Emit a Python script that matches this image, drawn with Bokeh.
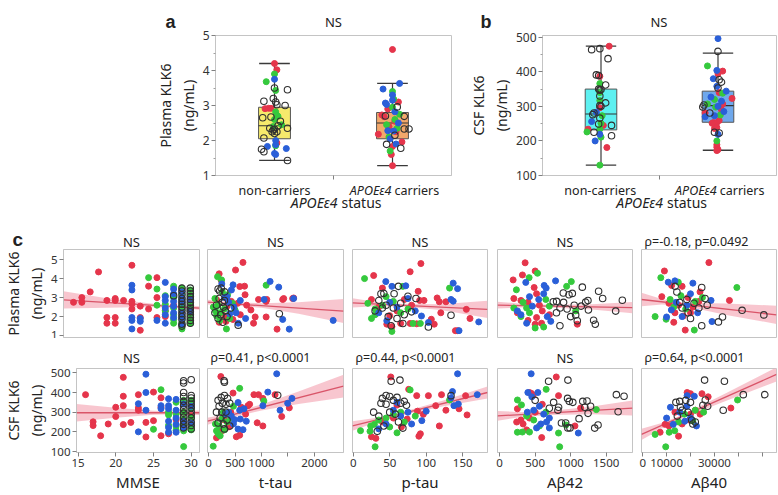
from bokeh.plotting import figure
from bokeh.models import Range1d, FixedTicker, Label
from bokeh.layouts import row, column
from bokeh.embed import file_html
from bokeh.resources import INLINE

# ---------------- data ----------------
group_pos = [0.5, 1.5]
group_names = ["non-carriers", "carriers"]
gene = "APOE\u03b54"

# box stats: [lower whisker, Q1, median, Q3, upper whisker]
a_nc_stats = [1.43, 2.05, 2.42, 2.95, 4.20]
a_c_stats = [1.28, 2.05, 2.50, 2.80, 3.63]
b_nc_stats = [130, 232, 278, 350, 474]
b_c_stats = [173, 254, 302, 344, 454]

# panel a points (x = jittered group position, y = plasma KLK6)
a_red = [(0.5, 4.2), (0.52, 4.02), (0.42, 2.91), (0.45, 2.92), (0.47, 2.92), (0.52, 1.93),
         (1.5, 4.6), (1.41, 2.73), (1.43, 2.68), (1.38, 2.18), (1.47, 2.4), (1.58, 1.96), (1.5, 1.83),
         (1.5, 1.28), (1.52, 2.55), (1.46, 2.9), (1.55, 3.1), (1.49, 1.6), (1.53, 2.25)]
a_green = [(0.5, 3.9), (0.43, 3.68), (0.51, 3.43), (0.51, 2.82), (0.52, 2.72), (0.53, 2.69), (0.5, 2.6),
           (0.56, 2.45), (0.49, 2.4), (0.51, 1.85),
           (1.51, 3.18), (1.47, 2.1), (1.52, 2.6), (1.5, 2.95), (1.54, 2.35), (1.48, 1.7), (1.5, 3.4),
           (1.56, 2.75), (1.45, 2.45)]
a_blue = [(0.5, 3.75), (0.51, 2.0), (0.51, 1.88), (0.44, 1.83), (0.6, 1.77), (0.5, 1.63), (0.51, 1.6),
          (1.56, 3.63), (1.42, 3.47), (1.44, 3.07), (1.45, 3.03), (1.5, 3.15), (1.46, 2.28), (1.51, 2.27),
          (1.52, 2.82), (1.48, 2.05), (1.53, 1.9), (1.55, 2.5), (1.5, 3.3)]
a_open = [(0.5, 3.5), (0.61, 3.45), (0.41, 3.12), (0.49, 3.2), (0.51, 3.1), (0.52, 3.02), (0.59, 3.0),
          (0.4, 2.65), (0.47, 2.67), (0.55, 2.55), (0.53, 2.42), (0.61, 2.35), (0.49, 2.3), (0.48, 2.25),
          (0.52, 2.25), (0.5, 2.2), (0.41, 2.07), (0.39, 1.75), (0.41, 1.68), (0.61, 1.43), (0.5, 2.32),
          (0.46, 2.35),
          (1.44, 2.7), (1.54, 2.96), (1.6, 2.69), (1.6, 2.33), (1.64, 2.33), (1.45, 1.89), (1.57, 1.78),
          (1.52, 2.15)]

# panel b points (x = jittered group position, y = CSF KLK6)
b_red = [(0.57, 474), (0.49, 387), (0.49, 296), (0.52, 245), (0.39, 234), (0.55, 181),
         (1.54, 402), (1.5, 394), (1.51, 340), (1.62, 323), (1.54, 307), (1.39, 281), (1.46, 253),
         (1.49, 253), (1.45, 251), (1.51, 259), (1.47, 236), (1.49, 239), (1.49, 189), (1.49, 182),
         (1.5, 175), (1.49, 172), (1.53, 290)]
b_green = [(0.49, 366), (0.49, 340), (0.49, 317), (0.51, 273), (0.5, 251), (0.38, 226), (0.49, 234),
           (0.5, 211), (0.49, 130),
           (1.41, 417), (1.54, 338), (1.41, 307), (1.48, 298), (1.52, 275), (1.49, 200), (1.47, 320)]
b_blue = [(0.46, 283), (0.42, 256), (0.49, 219), (0.45, 200),
          (1.5, 496), (1.49, 404), (1.49, 358), (1.57, 344), (1.44, 327), (1.53, 315), (1.5, 300),
          (1.39, 270), (1.47, 273), (1.5, 219), (1.55, 285), (1.46, 380)]
b_open = [(0.42, 464), (0.49, 467), (0.56, 438), (0.46, 391), (0.48, 389), (0.54, 362), (0.48, 350),
          (0.5, 349), (0.49, 347), (0.49, 330), (0.54, 310), (0.49, 302), (0.5, 300), (0.44, 281),
          (0.43, 276), (0.49, 266), (0.48, 249), (0.59, 245), (0.44, 225), (0.59, 215),
          (1.5, 459), (1.51, 377), (1.53, 370), (1.5, 353), (1.38, 304), (1.37, 298), (1.43, 281),
          (1.47, 225), (1.51, 223)]

# ---- panel c : plasma KLK6 (row 1) ----
mp_red = [(16, 2.75), (17, 3.0), (17, 2.75), (18, 3.3), (19, 4.35), (20, 2.85), (20, 1.95), (20, 1.65),
          (21, 2.95), (21, 2.85), (21, 1.95), (21, 1.65), (22, 2.85), (23, 4.7), (23, 2.8), (23, 2.67),
          (23, 2.4), (24, 2.55), (24, 1.95), (24, 1.28), (25, 3.6), (25, 2.4), (26, 4.05), (26, 3.0),
          (26, 1.95), (27, 2.3), (27, 2.0), (28, 2.6), (29, 2.2), (30, 2.5)]
mp_green = [(25, 4.05), (26, 3.45), (26, 2.6), (27, 3.1), (27, 2.65), (27, 2.3), (28, 3.6), (28, 3.0),
            (28, 2.45), (28, 2.1), (28, 1.65), (29, 3.5), (29, 3.2), (29, 2.9), (29, 2.6), (29, 2.3),
            (29, 2.0), (29, 1.7), (29, 1.35), (30, 3.4), (30, 3.05), (30, 2.75), (30, 2.45), (30, 2.15),
            (30, 1.85), (30, 1.65), (28, 1.85)]
mp_blue = [(23, 3.65), (23, 3.4), (23, 1.95), (23, 1.8), (23, 1.35), (24, 1.9), (24, 1.75), (26, 1.8),
           (27, 3.8), (27, 3.05), (27, 2.85), (27, 2.45), (27, 2.1), (28, 3.45), (28, 3.2), (28, 2.8),
           (28, 2.55), (28, 2.2), (28, 1.95), (29, 3.3), (29, 3.0), (29, 2.75), (29, 2.2), (29, 1.9),
           (29, 1.6), (30, 2.9), (30, 2.3), (27, 1.65)]
mp_open = [(29, 3.5), (29, 3.35), (29, 3.15), (29, 2.95), (29, 2.8), (29, 2.65), (29, 2.5), (29, 2.35),
           (29, 2.15), (29, 2.0), (29, 1.85), (29, 1.6), (29, 1.5), (30, 3.5), (30, 3.35), (30, 3.2),
           (30, 3.05), (30, 2.9), (30, 2.75), (30, 2.6), (30, 2.45), (30, 2.35), (30, 2.25), (30, 2.1),
           (30, 1.95), (30, 1.8), (30, 1.65), (28, 3.1)]

tp_red = [(650, 4.85), (510, 4.45), (200, 4.25), (590, 3.58), (680, 3.6), (690, 3.15), (240, 3.9),
          (150, 2.9), (350, 2.55), (250, 2.2), (310, 1.95), (460, 1.85), (200, 1.7), (330, 1.75),
          (600, 2.1), (720, 2.6), (800, 2.35), (944, 2.9), (1088, 2.8), (1100, 2.9), (1401, 2.9),
          (1420, 2.95), (1589, 2.95), (1608, 2.98), (881, 1.98), (1088, 1.98), (1294, 1.34), (550, 2.7),
          (430, 2.8), (850, 1.65)]
tp_green = [(170, 4.1), (245, 3.93), (1088, 3.65), (360, 3.15), (120, 2.95), (180, 2.6), (300, 2.4),
            (220, 2.2), (150, 2.05), (338, 1.35), (400, 1.9), (260, 3.3), (130, 2.3), (450, 2.7),
            (210, 1.8), (500, 2.35), (90, 2.5)]
tp_blue = [(1163, 3.85), (1326, 3.55), (1050, 2.9), (1607, 2.95), (1401, 1.85), (1525, 1.34), (2355, 1.8),
           (463, 3.67), (432, 3.4), (300, 3.0), (350, 3.05), (250, 3.72), (480, 2.5), (520, 2.2),
           (600, 2.85), (700, 1.9), (400, 2.15), (560, 1.65), (380, 2.75)]
tp_open = [(181, 3.45), (210, 3.35), (240, 3.5), (306, 3.3), (1338, 2.15), (560, 1.55), (200, 2.95),
           (260, 2.75), (150, 2.6), (280, 2.5), (320, 2.3), (230, 2.1), (180, 1.9), (350, 2.0), (270, 1.7),
           (420, 2.45), (120, 2.2), (300, 2.85)]

pp_red = [(92.7, 4.79), (28, 4.16), (78, 4.36), (40, 3.5), (89, 3.33), (97, 2.85), (91, 2.85), (115, 2.98),
          (118, 2.78), (127, 2.78), (155, 2.38), (160, 1.9), (120, 2.2), (107, 1.86), (46, 1.6), (53, 1.47),
          (65, 1.64), (78, 1.64), (87, 1.62), (111, 1.6), (140, 1.26), (143, 1.26), (25, 2.9), (35, 2.5),
          (60, 2.3), (70, 2.9), (50, 2.05), (80, 2.6)]
pp_green = [(15.5, 4.0), (68, 3.59), (132, 3.5), (25, 1.9), (30, 2.1), (53, 1.22), (82, 1.64), (92, 1.64),
            (40, 2.6), (55, 2.8), (65, 2.2), (30, 2.4), (45, 3.05), (75, 2.4), (20, 2.7)]
pp_blue = [(44.6, 3.84), (72, 3.62), (53, 3.59), (137, 3.76), (143, 3.47), (134, 2.9), (137, 2.81),
           (172, 1.72), (93.5, 2.03), (103, 1.69), (46, 1.78), (145, 1.26), (60, 2.5), (75, 2.95), (35, 2.2),
           (85, 2.3), (50, 2.75)]
pp_open = [(62, 3.59), (38, 3.2), (42, 3.22), (56, 3.2), (75, 3.07), (86, 2.95), (134, 2.07), (52, 1.52),
           (68, 1.64), (103, 1.45), (35, 2.85), (45, 2.6), (55, 2.45), (65, 2.7), (30, 2.3), (48, 2.0),
           (70, 2.1), (60, 1.9), (40, 2.45), (80, 2.25)]

ap_red = [(359, 4.83), (321, 4.19), (500, 4.4), (190, 3.93), (486, 3.53), (200, 2.95), (300, 2.85),
          (400, 2.75), (520, 3.2), (560, 2.6), (600, 2.3), (520, 1.95), (400, 1.8), (500, 1.6), (590, 1.65),
          (1093, 1.6), (250, 2.2), (700, 2.1)]
ap_green = [(415, 4.05), (533, 4.28), (943, 3.59), (1009, 3.84), (236, 3.41), (200, 2.45), (300, 2.0),
            (380, 2.45), (420, 2.2), (500, 1.4), (620, 1.45), (650, 2.9), (1070, 2.3), (700, 2.55),
            (330, 2.75)]
ap_blue = [(368, 3.8), (787, 3.88), (627, 3.64), (655, 3.5), (250, 2.3), (380, 1.65), (620, 3.2),
           (670, 2.0), (460, 2.55), (300, 2.1), (550, 2.9), (720, 1.75), (420, 3.05)]
ap_open = [(1164, 3.55), (896, 3.24), (976, 3.15), (1023, 3.22), (1393, 3.33), (1243, 2.85), (1211, 2.76),
           (1727, 2.86), (1633, 2.29), (1323, 1.81), (1347, 1.6), (849, 1.52), (1093, 1.78), (755, 2.78),
           (802, 2.8), (1070, 2.09), (850, 2.45), (1050, 2.6), (1150, 2.55), (900, 2.75), (950, 2.4),
           (1250, 2.35), (1450, 2.95), (1000, 2.0), (800, 2.2)]

fp_red = [(27700, 4.84), (9090, 4.4), (16500, 3.59), (12100, 3.64), (36300, 2.85), (17800, 1.29),
          (13500, 2.2), (17000, 2.03), (8000, 3.05), (11000, 2.7), (15000, 2.6), (19000, 3.0), (21000, 2.5),
          (24000, 3.3), (23500, 2.8), (13000, 1.7), (20000, 2.2)]
fp_green = [(7580, 4.05), (39400, 3.53), (14900, 3.81), (21600, 1.29), (5200, 2.0), (9800, 1.86),
            (11500, 2.9), (18000, 2.4), (13000, 2.5), (22000, 2.8), (16000, 3.1), (25000, 3.0)]
fp_blue = [(10700, 3.81), (13500, 3.88), (21000, 3.76), (28600, 2.85), (29000, 1.74), (10000, 1.98),
           (14000, 2.75), (18500, 2.6), (16500, 2.0), (20000, 3.2), (12000, 2.35), (23000, 2.2)]
fp_open = [(13600, 3.59), (14300, 3.29), (24700, 3.53), (26100, 2.95), (41600, 2.33), (50700, 2.09),
           (33400, 1.98), (31700, 1.72), (24700, 1.52), (19000, 2.2), (16500, 2.45), (21500, 2.7),
           (18500, 2.9), (23500, 2.45), (15500, 2.75), (20000, 1.9), (27000, 2.6)]

# ---- panel c : CSF KLK6 (row 2) ----
mc_red = [(16, 389), (17, 251), (17, 232), (18, 180), (19, 240), (20, 325), (20, 278), (21, 477), (21, 381),
          (21, 333), (21, 237), (22, 248), (23, 389), (23, 322), (23, 310), (24, 248), (24, 174), (25, 402),
          (25, 257), (26, 373), (26, 325), (26, 180), (27, 190), (28, 262), (29, 300), (30, 280)]
mc_green = [(26, 414), (25, 213), (27, 286), (27, 233), (27, 300), (28, 350), (28, 290), (28, 230),
            (28, 208), (29, 360), (29, 300), (29, 265), (29, 230), (29, 205), (29, 125), (30, 360),
            (30, 320), (30, 270), (30, 235), (30, 210)]
mc_blue = [(24, 493), (24, 400), (24, 310), (23, 343), (23, 200), (26, 333), (26, 318), (27, 368),
           (27, 333), (27, 318), (27, 254), (27, 222), (27, 198), (28, 365), (28, 310), (28, 270),
           (28, 238), (28, 198), (29, 341), (29, 254), (29, 220), (30, 330), (30, 245)]
mc_open = [(29, 460), (29, 448), (29, 400), (29, 380), (29, 355), (29, 335), (29, 315), (29, 295),
           (29, 275), (29, 255), (29, 238), (29, 220), (30, 465), (30, 385), (30, 372), (30, 355),
           (30, 340), (30, 322), (30, 305), (30, 288), (30, 270), (30, 250), (30, 232), (30, 215)]

tc_red = [(232, 481), (463, 397), (857, 389), (944, 389), (1026, 370), (745, 333), (620, 325), (776, 340),
          (1257, 389), (1526, 322), (1382, 278), (919, 246), (1026, 230), (588, 183), (525, 175), (150, 170),
          (300, 260), (420, 300), (700, 290), (380, 225), (250, 205)]
tc_green = [(588, 421), (1045, 357), (88, 127), (150, 205), (200, 230), (250, 265), (300, 210), (350, 250),
            (180, 190), (420, 270), (130, 240), (470, 330), (280, 300), (220, 180)]
tc_blue = [(1288, 495), (1120, 402), (557, 349), (670, 317), (588, 310), (1026, 333), (1495, 345),
           (1576, 370), (1351, 310), (494, 262), (651, 211), (713, 254), (557, 214), (430, 280), (380, 300),
           (470, 240), (330, 290), (600, 265)]
tc_open = [(294, 460), (300, 452), (180, 360), (240, 375), (300, 385), (360, 370), (260, 345), (330, 340),
           (400, 345), (200, 330), (150, 300), (250, 300), (330, 300), (1307, 386), (220, 270), (280, 240),
           (350, 260), (400, 230), (180, 245), (300, 215)]

pc_red = [(51.5, 479), (76, 416), (121, 389), (103, 384), (87, 384), (154, 384), (127, 310), (145, 317),
          (156, 286), (113, 333), (60, 336), (88, 305), (96, 289), (25, 175), (31, 167), (90, 178), (92, 190),
          (118, 230), (66, 225), (74, 265), (40, 250), (55, 270)]
pc_green = [(78, 413), (132, 362), (24, 230), (29, 238), (23, 203), (10, 206), (60, 195), (30, 124),
            (45, 270), (55, 290), (65, 300), (35, 260), (70, 250), (50, 225), (85, 280)]
pc_blue = [(143, 495), (136, 405), (134, 373), (170, 389), (138, 333), (144, 341), (100, 305), (94, 257),
           (55, 310), (65, 280), (45, 240), (75, 300), (35, 215), (80, 240), (60, 350)]
pc_open = [(52, 457), (64, 463), (40, 370), (45, 385), (50, 380), (55, 360), (60, 375), (65, 345), (70, 355),
           (73, 335), (45, 340), (38, 345), (134, 384), (68, 219), (33, 203), (50, 300), (58, 290), (35, 280),
           (42, 230), (62, 250), (28, 300)]

ac_red = [(797, 479), (420, 400), (450, 395), (470, 385), (829, 384), (1140, 321), (250, 317), (592, 171),
          (300, 260), (240, 250), (330, 240), (420, 270), (1060, 230), (500, 300), (380, 210), (600, 340)]
ac_green = [(655, 416), (251, 362), (307, 337), (1361, 313), (933, 235), (829, 194), (845, 124), (320, 199),
            (250, 198), (420, 199), (560, 230), (480, 260), (650, 300), (380, 280)]
ac_blue = [(444, 495), (397, 400), (538, 400), (453, 378), (1107, 194), (580, 240), (660, 250), (700, 270),
           (480, 310), (560, 330), (620, 290), (390, 300), (520, 220), (700, 220)]
ac_open = [(689, 457), (961, 463), (1643, 389), (1751, 381), (1667, 302), (956, 370), (980, 355), (1030, 350),
           (1170, 355), (1230, 357), (1280, 330), (1200, 325), (500, 360), (760, 350), (830, 325), (820, 310),
           (1245, 294), (1118, 267), (960, 220), (990, 220), (1338, 219), (1385, 235), (870, 245), (930, 245),
           (700, 320)]

fc_red = [(18600, 400), (20000, 394), (24800, 394), (27400, 378), (36900, 321), (9380, 238), (7300, 198),
          (15000, 178), (16500, 240), (11000, 230), (20000, 290), (22000, 310), (24000, 290), (19500, 260),
          (13500, 300)]
fc_green = [(39700, 362), (5200, 187), (9640, 124), (11100, 198), (13400, 206), (17500, 290), (21000, 255),
            (25500, 300), (22000, 310), (15000, 250)]
fc_blue = [(18600, 384), (21600, 381), (11600, 325), (10000, 270), (12800, 238), (17600, 254), (15500, 300),
           (18500, 330), (20000, 270), (22500, 230)]
fc_open = [(25900, 463), (34200, 457), (42100, 389), (51100, 389), (33700, 310), (13900, 350), (15500, 355),
           (15800, 325), (18000, 360), (20000, 350), (26200, 362), (25200, 335), (27200, 330), (16500, 310),
           (19000, 300), (20500, 260), (21000, 240), (22000, 250), (14500, 280)]

# fitted lines with 95% bands, read at a few x positions: (x, lower, fit, upper)
fit_mp = ([14.8, 20, 25, 28, 31.1], [2.43, 2.47, 2.50, 2.47, 2.36], [2.88, 2.72, 2.60, 2.53, 2.45], [3.33, 2.97, 2.70, 2.59, 2.54])
fit_tp = ([-20, 400, 1000, 1700, 2550], [2.64, 2.61, 2.46, 2.15, 1.66], [2.76, 2.69, 2.58, 2.45, 2.29], [2.88, 2.77, 2.70, 2.75, 2.92])
fit_pp = ([-1, 30, 65, 120, 184], [2.48, 2.54, 2.53, 2.35, 1.93], [2.72, 2.66, 2.60, 2.50, 2.38], [2.96, 2.78, 2.67, 2.65, 2.83])
fit_ap = ([-30, 300, 700, 1300, 1870], [2.42, 2.48, 2.48, 2.37, 2.17], [2.60, 2.58, 2.55, 2.51, 2.47], [2.78, 2.68, 2.62, 2.65, 2.77])
fit_fp = ([-500, 8000, 17000, 35000, 56000], [2.55, 2.63, 2.57, 2.09, 1.61], [2.90, 2.78, 2.65, 2.39, 2.09], [3.25, 2.93, 2.73, 2.69, 2.57])
fit_mc = ([14.8, 20, 25, 28, 31.1], [252, 272, 287, 289, 285], [297, 297, 297, 297, 297], [342, 322, 307, 305, 309])
fit_tc = ([-20, 400, 1000, 1700, 2550], [236, 270, 309, 341, 374], [254, 282, 324, 373, 432], [272, 294, 339, 405, 490])
fit_pc = ([-1, 30, 65, 120, 184], [206, 246, 282, 327, 370], [230, 258, 290, 341, 400], [254, 270, 298, 355, 430])
fit_ac = ([-30, 300, 700, 1300, 1870], [256, 276, 286, 289, 283], [281, 288, 296, 309, 321], [306, 300, 306, 329, 359])
fit_fc = ([-500, 8000, 17000, 35000, 56000], [158, 217, 272, 358, 456], [187, 231, 280, 378, 492], [216, 245, 288, 398, 528])

x_names = ["MMSE", "t-tau", "p-tau", "A\u03b242", "A\u03b240"]
x_limits = [(14.8, 31.1), (-20, 2550), (-1, 184), (-30, 1870), (-500, 56000)]
x_ticks = [[15, 20, 25, 30], [0, 500, 1000, 1500, 2000], [0, 50, 100, 150], [0, 500, 1000, 1500],
           [0, 10000, 20000, 30000, 40000, 50000]]
x_hidden = [[], [1500], [], [], [20000, 40000, 50000]]
plasma_lim, plasma_ticks = (0.9, 5.53), [1, 2, 3, 4, 5]
csf_lim, csf_ticks = (95, 522), [100, 200, 300, 400, 500]
titles_plasma = ["NS", "NS", "NS", "NS", "\u03c1=-0.18, p=0.0492"]
titles_csf = ["NS", "\u03c1=0.41, p<0.0001", "\u03c1=0.44, p<0.0001", "NS", "\u03c1=0.64, p<0.0001"]

# ---------------- style / layout ----------------
FONT = "Noto Sans"
LETTER_FONT = "Liberation Sans"
RED, GREEN, BLUE, RING = "#e5354b", "#35c93d", "#2a5fd8", "#303030"
BAND, FITLINE = "#f5b3bf", "#d95569"
FRAME = "#c4c4c4"
TOTAL_W = 777

# top row: (width, border-left, border-right)
A_W, A_BL, A_BR = 466, 215, 15
B_W, B_BL, B_BR = 311, 75, 1
TOP_H, TOP_BT, TOP_BB = 150, 5, 5
# bottom grid
widths = [203, 144, 144, 145, 141]
bls = [63, 4, 5, 6, 5]
brs = [4, 4, 4, 4, 1]
R1_H, R1_BT, R1_BB = 89, 0, 1
R2_H, R2_BT, R2_BB = 129, 3, 39
S_TOP, S_MID, S_C, S_R2 = 30, 36, 33, 27


def base_fig(w, h, bl, br, bt, bb, xr, yr, xaxis=True, yaxis=True):
    p = figure(width=w, height=h, x_range=Range1d(*xr), y_range=Range1d(*yr),
               output_backend="svg", toolbar_location=None,
               x_axis_location="below" if xaxis else None,
               y_axis_location="left" if yaxis else None,
               min_border_left=bl, min_border_right=br, min_border_top=bt, min_border_bottom=bb)
    p.grid.visible = False
    p.outline_line_color = FRAME
    p.outline_line_width = 1
    for ax in p.axis:
        ax.axis_line_color = FRAME
        ax.major_tick_line_color = "#808080"
        ax.minor_tick_line_color = "#a0a0a0"
        ax.major_tick_in = 0
        ax.major_tick_out = 4
        ax.minor_tick_in = 0
        ax.minor_tick_out = 2
        ax.major_label_text_font = FONT
        ax.major_label_text_color = "#333333"
        ax.axis_label_text_font = FONT
        ax.axis_label_text_font_style = "normal"
        ax.axis_label_text_color = "#222222"
        ax.major_label_standoff = 2
        ax.axis_label_standoff = 2
    return p


def strip(h):
    s = figure(width=TOTAL_W, height=h, x_range=Range1d(0, 1), y_range=Range1d(0, 1),
               output_backend="svg", toolbar_location=None, x_axis_location=None, y_axis_location=None,
               min_border_left=0, min_border_right=0, min_border_top=0, min_border_bottom=0)
    s.grid.visible = False
    s.outline_line_color = None
    return s


def text(p, x, y, s, size, align="center", baseline="alphabetic", style="normal", font=FONT):
    p.add_layout(Label(x=x, y=y, x_units="screen", y_units="screen", text=s, text_font=font,
                       text_font_size=f"{size}px", text_align=align, text_baseline=baseline,
                       text_font_style=style, text_color="#222222"))


def pts(p, groups):
    for g, c in zip(groups[:3], [RED, GREEN, BLUE]):
        p.scatter(x=[q[0] for q in g], y=[q[1] for q in g], size=6, fill_color=c, line_color=c)
    g = groups[3]
    p.scatter(x=[q[0] for q in g], y=[q[1] for q in g], size=6.5, fill_color=None,
              line_color=RING, line_width=1.1)


def box(p, c, st, fill):
    lo, q1, md, q3, hi = st
    p.segment(x0=[c, c], y0=[q3, q1], x1=[c, c], y1=[hi, lo], line_color="#3a3a3a", line_width=1.2)
    p.segment(x0=[c - 0.13, c - 0.13], y0=[hi, lo], x1=[c + 0.13, c + 0.13], y1=[hi, lo],
              line_color="#3a3a3a", line_width=1.3)
    p.quad(left=[c - 0.135], right=[c + 0.135], bottom=[q1], top=[q3], fill_color=fill,
           line_color="#555555", line_width=1)
    p.segment(x0=[c - 0.135], y0=[md], x1=[c + 0.135], y1=[md], line_color="#333333", line_width=1.1)


def top_panel(w, bl, br, yr, yticks, ylabel, stats, fills, groups):
    p = base_fig(w, TOP_H, bl, br, TOP_BT, TOP_BB, (0, 2), yr)
    p.xaxis.ticker = FixedTicker(ticks=[1])
    p.xaxis.major_label_overrides = {1: ""}
    p.xaxis.major_label_text_font_size = "1px"
    p.xaxis.major_label_standoff = 0
    step = yticks[1] - yticks[0]
    p.yaxis.ticker = FixedTicker(ticks=yticks, minor_ticks=[t + step / 2 for t in yticks[:-1]])
    p.yaxis.major_label_text_font_size = "12px"
    p.yaxis.axis_label = ylabel
    p.yaxis.axis_label_text_font_size = "14px"
    for c, st, f in zip(group_pos, stats, fills):
        box(p, c, st, f)
    pts(p, groups)
    return p


figA = top_panel(A_W, A_BL, A_BR, (1, 5), [1, 2, 3, 4, 5], "Plasma KLK6\n(ng/mL)",
                 [a_nc_stats, a_c_stats], ["#f6ea6c", "#f3a86b"], [a_red, a_green, a_blue, a_open])
figB = top_panel(B_W, B_BL, B_BR, (100, 505), [100, 200, 300, 400, 500], "CSF KLK6\n(ng/mL)",
                 [b_nc_stats, b_c_stats], ["#5ef1f1", "#6fa8ec"], [b_red, b_green, b_blue, b_open])

plasma_sets = [[mp_red, mp_green, mp_blue, mp_open], [tp_red, tp_green, tp_blue, tp_open],
               [pp_red, pp_green, pp_blue, pp_open], [ap_red, ap_green, ap_blue, ap_open],
               [fp_red, fp_green, fp_blue, fp_open]]
csf_sets = [[mc_red, mc_green, mc_blue, mc_open], [tc_red, tc_green, tc_blue, tc_open],
            [pc_red, pc_green, pc_blue, pc_open], [ac_red, ac_green, ac_blue, ac_open],
            [fc_red, fc_green, fc_blue, fc_open]]
plasma_fits = [fit_mp, fit_tp, fit_pp, fit_ap, fit_fp]
csf_fits = [fit_mc, fit_tc, fit_pc, fit_ac, fit_fc]


def scatter_panel(i, ylim, yticks, ylabel, sets, fit, bottom):
    h, bt, bb = (R2_H, R2_BT, R2_BB) if bottom else (R1_H, R1_BT, R1_BB)
    p = base_fig(widths[i], h, bls[i], brs[i], bt, bb, x_limits[i], ylim, xaxis=bottom, yaxis=(i == 0))
    fx, flo, fmid, fhi = fit
    p.varea(x=fx, y1=flo, y2=fhi, fill_color=BAND, fill_alpha=0.75)
    p.line(x=[fx[0], fx[-1]], y=[fmid[0], fmid[-1]], line_color=FITLINE, line_width=1.3)
    pts(p, sets)
    if i == 0:
        p.yaxis.ticker = FixedTicker(ticks=yticks)
        p.yaxis.major_label_text_font_size = "11.5px"
        p.yaxis.axis_label = ylabel
        p.yaxis.axis_label_text_font_size = "14px"
    if bottom:
        p.xaxis.ticker = FixedTicker(ticks=x_ticks[i])
        p.xaxis.major_label_overrides = {t: "" for t in x_hidden[i]}
        p.xaxis.major_label_text_font_size = "11.5px"
        p.xaxis.axis_label = x_names[i]
        p.xaxis.axis_label_text_font_size = "15px"
    return p


row1 = [scatter_panel(i, plasma_lim, plasma_ticks, "Plasma KLK6\n(ng/mL)", plasma_sets[i], plasma_fits[i], False)
        for i in range(5)]
row2 = [scatter_panel(i, csf_lim, csf_ticks, "CSF KLK6\n(ng/mL)", csf_sets[i], csf_fits[i], True)
        for i in range(5)]

# ---------------- text strips (positions follow the layout) ----------------
fa_left, fa_w = A_BL, A_W - A_BL - A_BR
fb_left, fb_w = A_W + B_BL, B_W - B_BL - B_BR
col_left, col_w = [], []
acc = 0
for w, l, r in zip(widths, bls, brs):
    col_left.append(acc + l)
    col_w.append(w - l - r)
    acc += w

s_top = strip(S_TOP)
text(s_top, fa_left - 50, 9, "a", 18, align="left", style="bold", font=LETTER_FONT)
text(s_top, fb_left - 61, 9, "b", 18, align="left", style="bold", font=LETTER_FONT)
text(s_top, fa_left + fa_w / 2, 9, "NS", 13)
text(s_top, fb_left + fb_w / 2, 9, "NS", 13)

s_mid = strip(S_MID)
for left, w in [(fa_left, fa_w), (fb_left, fb_w)]:
    c0 = left + w * group_pos[0] / 2
    c1 = left + w * group_pos[1] / 2
    cm = left + w / 2
    text(s_mid, c0, S_MID - 1, group_names[0], 12.5, baseline="top")
    text(s_mid, c1 - 1, S_MID - 1, gene, 12.5, align="right", baseline="top", style="italic")
    text(s_mid, c1 + 2, S_MID - 1, group_names[1], 12.5, align="left", baseline="top")
    text(s_mid, cm + 4, 24, gene, 14, align="right", baseline="top", style="italic")
    text(s_mid, cm + 8, 24, "status", 14, align="left", baseline="top")

s_c = strip(S_C)
text(s_c, 12, 10, "c", 19, align="left", style="bold", font=LETTER_FONT)
s_r2 = strip(S_R2)
for i in range(5):
    for s, t in [(s_c, titles_plasma[i]), (s_r2, titles_csf[i])]:
        if t == "NS":
            text(s, col_left[i] + col_w[i] / 2, 8, t, 13)
        else:
            text(s, col_left[i] + 3, 8, t, 12.5, align="left")

layout = column(s_top, row(figA, figB), s_mid, s_c, row(*row1), s_r2, row(*row2))
open("out.html", "w").write(file_html(layout, INLINE))
